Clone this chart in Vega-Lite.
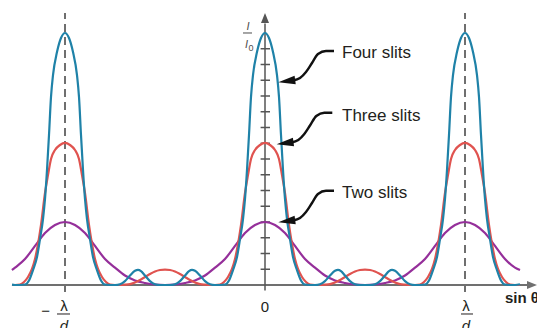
{
"$schema":"https://vega.github.io/schema/vega-lite/v6.json",
"width":537,"height":328,"padding":0,"autosize":{"type":"none"},
"background":"white",
"config":{"view":{"stroke":null},"font":"Liberation Sans"},
"encoding":{
"x":{"field":"u","type":"quantitative","scale":{"domain":[-1.325,1.36],"nice":false,"zero":false},"axis":null},
"y":{"field":"i","type":"quantitative","scale":{"domain":[-2.73,18.095],"nice":false,"zero":false},"axis":null}
},
"layer":[
{"data":{"values":[{"u":-1,"i":-0.444,"i2":17.27},{"u":1,"i":-0.444,"i2":17.27}]},
"mark":{"type":"rule","stroke":"#333333","strokeWidth":1.4,"strokeDash":[8,5]},
"encoding":{"y2":{"field":"i2"}}},
{"data":{"values":[{"u":-1.265,"u2":1.315,"i":0}]},
"mark":{"type":"rule","stroke":"#707070","strokeWidth":2},
"encoding":{"x2":{"field":"u2"}}},
{"data":{"values":[{"u":0,"i":-0.35,"i2":16.6}]},
"mark":{"type":"rule","stroke":"#555555","strokeWidth":1.5},
"encoding":{"y2":{"field":"i2"}}},
{"data":{"values":[{"u":-0.022,"u2":0.025,"i":1},{"u":-0.022,"u2":0.025,"i":2},{"u":-0.022,"u2":0.025,"i":3},{"u":-0.022,"u2":0.025,"i":4},{"u":-0.022,"u2":0.025,"i":5},{"u":-0.022,"u2":0.025,"i":6},{"u":-0.022,"u2":0.025,"i":7},{"u":-0.022,"u2":0.025,"i":8},{"u":-0.022,"u2":0.025,"i":9},{"u":-0.022,"u2":0.025,"i":10},{"u":-0.022,"u2":0.025,"i":11},{"u":-0.022,"u2":0.025,"i":12},{"u":-0.022,"u2":0.025,"i":13},{"u":-0.022,"u2":0.025,"i":14},{"u":-0.022,"u2":0.025,"i":15}]},
"mark":{"type":"rule","stroke":"#555555","strokeWidth":1.5},
"encoding":{"x2":{"field":"u2"}}},
{"data":{"values":[{"u":0,"i":16.95}]},
"mark":{"type":"point","shape":"M 0 -1 L 0.8 1 L -0.8 1 Z","size":100,"filled":true,"fill":"#555555","opacity":1,"strokeWidth":0}},
{"data":{"values":[{"u":1.335,"i":0}]},
"mark":{"type":"point","shape":"M 1 0 L -1 -0.8 L -1 0.8 Z","size":100,"filled":true,"fill":"#707070","opacity":1,"strokeWidth":0}},
{"data":{"values":[
{"s":"Two","u":-1.265,"i":0.95},{"s":"Two","u":-1.25,"i":1.1},{"s":"Two","u":-1.2,"i":1.65},{"s":"Two","u":-1.15,"i":2.48},{"s":"Two","u":-1.1,"i":3.3},{"s":"Two","u":-1.05,"i":3.81},{"s":"Two","u":-1,"i":4},{"s":"Two","u":-0.95,"i":3.81},{"s":"Two","u":-0.9,"i":3.3},{"s":"Two","u":-0.85,"i":2.48},{"s":"Two","u":-0.8,"i":1.65},{"s":"Two","u":-0.75,"i":1.1},{"s":"Two","u":-0.7,"i":0.6},{"s":"Two","u":-0.65,"i":0.29},{"s":"Two","u":-0.6,"i":0.13},{"s":"Two","u":-0.55,"i":0.03},{"s":"Two","u":-0.5,"i":0},{"s":"Two","u":-0.45,"i":0.03},{"s":"Two","u":-0.4,"i":0.13},{"s":"Two","u":-0.35,"i":0.29},{"s":"Two","u":-0.3,"i":0.6},{"s":"Two","u":-0.25,"i":1.1},{"s":"Two","u":-0.2,"i":1.65},{"s":"Two","u":-0.15,"i":2.48},{"s":"Two","u":-0.1,"i":3.3},{"s":"Two","u":-0.05,"i":3.81},{"s":"Two","u":0,"i":4},{"s":"Two","u":0.05,"i":3.81},{"s":"Two","u":0.1,"i":3.3},{"s":"Two","u":0.15,"i":2.48},{"s":"Two","u":0.2,"i":1.65},{"s":"Two","u":0.25,"i":1.1},{"s":"Two","u":0.3,"i":0.6},{"s":"Two","u":0.35,"i":0.29},{"s":"Two","u":0.4,"i":0.13},{"s":"Two","u":0.45,"i":0.03},{"s":"Two","u":0.5,"i":0},{"s":"Two","u":0.55,"i":0.03},{"s":"Two","u":0.6,"i":0.13},{"s":"Two","u":0.65,"i":0.29},{"s":"Two","u":0.7,"i":0.6},{"s":"Two","u":0.75,"i":1.1},{"s":"Two","u":0.8,"i":1.65},{"s":"Two","u":0.85,"i":2.48},{"s":"Two","u":0.9,"i":3.3},{"s":"Two","u":0.95,"i":3.81},{"s":"Two","u":1,"i":4},{"s":"Two","u":1.05,"i":3.81},{"s":"Two","u":1.1,"i":3.3},{"s":"Two","u":1.15,"i":2.48},{"s":"Two","u":1.2,"i":1.65},{"s":"Two","u":1.25,"i":1.1},{"s":"Two","u":1.275,"i":0.95},
{"s":"Three","u":-1.265,"i":0},{"s":"Three","u":-1.25,"i":0},{"s":"Three","u":-1.225,"i":0.03},{"s":"Three","u":-1.205,"i":0.19},{"s":"Three","u":-1.185,"i":0.51},{"s":"Three","u":-1.165,"i":1.02},{"s":"Three","u":-1.15,"i":1.65},{"s":"Three","u":-1.135,"i":2.6},{"s":"Three","u":-1.12,"i":3.81},{"s":"Three","u":-1.1,"i":5.84},{"s":"Three","u":-1.085,"i":6.98},{"s":"Three","u":-1.07,"i":8},{"s":"Three","u":-1.05,"i":8.57},{"s":"Three","u":-1.025,"i":8.89},{"s":"Three","u":-1,"i":9.02},
{"s":"Three","u":-0.975,"i":8.89},{"s":"Three","u":-0.95,"i":8.57},{"s":"Three","u":-0.93,"i":8},{"s":"Three","u":-0.915,"i":6.98},{"s":"Three","u":-0.9,"i":5.84},{"s":"Three","u":-0.88,"i":3.81},{"s":"Three","u":-0.865,"i":2.6},{"s":"Three","u":-0.85,"i":1.65},{"s":"Three","u":-0.835,"i":1.02},{"s":"Three","u":-0.815,"i":0.51},{"s":"Three","u":-0.795,"i":0.19},{"s":"Three","u":-0.775,"i":0.03},{"s":"Three","u":-0.75,"i":0},{"s":"Three","u":-0.725,"i":0},{"s":"Three","u":-0.7,"i":0.02},{"s":"Three","u":-0.675,"i":0.06},{"s":"Three","u":-0.65,"i":0.16},{"s":"Three","u":-0.625,"i":0.32},{"s":"Three","u":-0.6,"i":0.51},{"s":"Three","u":-0.575,"i":0.7},{"s":"Three","u":-0.55,"i":0.86},{"s":"Three","u":-0.525,"i":0.95},{"s":"Three","u":-0.5,"i":0.98},
{"s":"Three","u":-0.475,"i":0.95},{"s":"Three","u":-0.45,"i":0.86},{"s":"Three","u":-0.425,"i":0.7},{"s":"Three","u":-0.4,"i":0.51},{"s":"Three","u":-0.375,"i":0.32},{"s":"Three","u":-0.35,"i":0.16},{"s":"Three","u":-0.325,"i":0.06},{"s":"Three","u":-0.3,"i":0.02},{"s":"Three","u":-0.275,"i":0},{"s":"Three","u":-0.25,"i":0},{"s":"Three","u":-0.225,"i":0.03},{"s":"Three","u":-0.205,"i":0.19},{"s":"Three","u":-0.185,"i":0.51},{"s":"Three","u":-0.165,"i":1.02},{"s":"Three","u":-0.15,"i":1.65},{"s":"Three","u":-0.135,"i":2.6},{"s":"Three","u":-0.12,"i":3.81},{"s":"Three","u":-0.1,"i":5.84},{"s":"Three","u":-0.085,"i":6.98},{"s":"Three","u":-0.07,"i":8},{"s":"Three","u":-0.05,"i":8.57},{"s":"Three","u":-0.025,"i":8.89},{"s":"Three","u":0,"i":9.02},
{"s":"Three","u":0.025,"i":8.89},{"s":"Three","u":0.05,"i":8.57},{"s":"Three","u":0.07,"i":8},{"s":"Three","u":0.085,"i":6.98},{"s":"Three","u":0.1,"i":5.84},{"s":"Three","u":0.12,"i":3.81},{"s":"Three","u":0.135,"i":2.6},{"s":"Three","u":0.15,"i":1.65},{"s":"Three","u":0.165,"i":1.02},{"s":"Three","u":0.185,"i":0.51},{"s":"Three","u":0.205,"i":0.19},{"s":"Three","u":0.225,"i":0.03},{"s":"Three","u":0.25,"i":0},{"s":"Three","u":0.275,"i":0},{"s":"Three","u":0.3,"i":0.02},{"s":"Three","u":0.325,"i":0.06},{"s":"Three","u":0.35,"i":0.16},{"s":"Three","u":0.375,"i":0.32},{"s":"Three","u":0.4,"i":0.51},{"s":"Three","u":0.425,"i":0.7},{"s":"Three","u":0.45,"i":0.86},{"s":"Three","u":0.475,"i":0.95},{"s":"Three","u":0.5,"i":0.98},
{"s":"Three","u":0.525,"i":0.95},{"s":"Three","u":0.55,"i":0.86},{"s":"Three","u":0.575,"i":0.7},{"s":"Three","u":0.6,"i":0.51},{"s":"Three","u":0.625,"i":0.32},{"s":"Three","u":0.65,"i":0.16},{"s":"Three","u":0.675,"i":0.06},{"s":"Three","u":0.7,"i":0.02},{"s":"Three","u":0.725,"i":0},{"s":"Three","u":0.75,"i":0},{"s":"Three","u":0.775,"i":0.03},{"s":"Three","u":0.795,"i":0.19},{"s":"Three","u":0.815,"i":0.51},{"s":"Three","u":0.835,"i":1.02},{"s":"Three","u":0.85,"i":1.65},{"s":"Three","u":0.865,"i":2.6},{"s":"Three","u":0.88,"i":3.81},{"s":"Three","u":0.9,"i":5.84},{"s":"Three","u":0.915,"i":6.98},{"s":"Three","u":0.93,"i":8},{"s":"Three","u":0.95,"i":8.57},{"s":"Three","u":0.975,"i":8.89},{"s":"Three","u":1,"i":9.02},
{"s":"Three","u":1.025,"i":8.89},{"s":"Three","u":1.05,"i":8.57},{"s":"Three","u":1.07,"i":8},{"s":"Three","u":1.085,"i":6.98},{"s":"Three","u":1.1,"i":5.84},{"s":"Three","u":1.12,"i":3.81},{"s":"Three","u":1.135,"i":2.6},{"s":"Three","u":1.15,"i":1.65},{"s":"Three","u":1.165,"i":1.02},{"s":"Three","u":1.185,"i":0.51},{"s":"Three","u":1.205,"i":0.19},{"s":"Three","u":1.225,"i":0.03},{"s":"Three","u":1.25,"i":0},{"s":"Three","u":1.275,"i":0},
{"s":"Four","u":-1.265,"i":0.02},{"s":"Four","u":-1.25,"i":0},{"s":"Four","u":-1.225,"i":0},{"s":"Four","u":-1.2,"i":0.03},{"s":"Four","u":-1.18,"i":0.29},{"s":"Four","u":-1.16,"i":0.95},{"s":"Four","u":-1.14,"i":1.78},{"s":"Four","u":-1.125,"i":2.92},{"s":"Four","u":-1.11,"i":4.19},{"s":"Four","u":-1.1,"i":5.46},{"s":"Four","u":-1.09,"i":7.3},{"s":"Four","u":-1.08,"i":9.52},{"s":"Four","u":-1.07,"i":11.94},{"s":"Four","u":-1.06,"i":13.33},{"s":"Four","u":-1.04,"i":14.79},{"s":"Four","u":-1.02,"i":15.68},{"s":"Four","u":-1,"i":16},
{"s":"Four","u":-0.98,"i":15.68},{"s":"Four","u":-0.96,"i":14.79},{"s":"Four","u":-0.94,"i":13.33},{"s":"Four","u":-0.93,"i":11.94},{"s":"Four","u":-0.92,"i":9.52},{"s":"Four","u":-0.91,"i":7.3},{"s":"Four","u":-0.9,"i":5.46},{"s":"Four","u":-0.89,"i":4.19},{"s":"Four","u":-0.875,"i":2.92},{"s":"Four","u":-0.86,"i":1.78},{"s":"Four","u":-0.84,"i":0.95},{"s":"Four","u":-0.82,"i":0.29},{"s":"Four","u":-0.8,"i":0.03},{"s":"Four","u":-0.775,"i":0},{"s":"Four","u":-0.75,"i":0},{"s":"Four","u":-0.725,"i":0.05},{"s":"Four","u":-0.7,"i":0.25},{"s":"Four","u":-0.675,"i":0.6},{"s":"Four","u":-0.65,"i":0.9},{"s":"Four","u":-0.635,"i":0.96},{"s":"Four","u":-0.62,"i":0.88},{"s":"Four","u":-0.6,"i":0.6},{"s":"Four","u":-0.575,"i":0.25},{"s":"Four","u":-0.55,"i":0.05},{"s":"Four","u":-0.525,"i":0},{"s":"Four","u":-0.5,"i":0},
{"s":"Four","u":-0.475,"i":0},{"s":"Four","u":-0.45,"i":0.05},{"s":"Four","u":-0.425,"i":0.25},{"s":"Four","u":-0.4,"i":0.6},{"s":"Four","u":-0.38,"i":0.88},{"s":"Four","u":-0.365,"i":0.96},{"s":"Four","u":-0.35,"i":0.9},{"s":"Four","u":-0.325,"i":0.6},{"s":"Four","u":-0.3,"i":0.25},{"s":"Four","u":-0.275,"i":0.05},{"s":"Four","u":-0.25,"i":0},{"s":"Four","u":-0.225,"i":0},{"s":"Four","u":-0.2,"i":0.03},{"s":"Four","u":-0.18,"i":0.29},{"s":"Four","u":-0.16,"i":0.95},{"s":"Four","u":-0.14,"i":1.78},{"s":"Four","u":-0.125,"i":2.92},{"s":"Four","u":-0.11,"i":4.19},{"s":"Four","u":-0.1,"i":5.46},{"s":"Four","u":-0.09,"i":7.3},{"s":"Four","u":-0.08,"i":9.52},{"s":"Four","u":-0.07,"i":11.94},{"s":"Four","u":-0.06,"i":13.33},{"s":"Four","u":-0.04,"i":14.79},{"s":"Four","u":-0.02,"i":15.68},{"s":"Four","u":0,"i":16},
{"s":"Four","u":0.02,"i":15.68},{"s":"Four","u":0.04,"i":14.79},{"s":"Four","u":0.06,"i":13.33},{"s":"Four","u":0.07,"i":11.94},{"s":"Four","u":0.08,"i":9.52},{"s":"Four","u":0.09,"i":7.3},{"s":"Four","u":0.1,"i":5.46},{"s":"Four","u":0.11,"i":4.19},{"s":"Four","u":0.125,"i":2.92},{"s":"Four","u":0.14,"i":1.78},{"s":"Four","u":0.16,"i":0.95},{"s":"Four","u":0.18,"i":0.29},{"s":"Four","u":0.2,"i":0.03},{"s":"Four","u":0.225,"i":0},{"s":"Four","u":0.25,"i":0},{"s":"Four","u":0.275,"i":0.05},{"s":"Four","u":0.3,"i":0.25},{"s":"Four","u":0.325,"i":0.6},{"s":"Four","u":0.35,"i":0.9},{"s":"Four","u":0.365,"i":0.96},{"s":"Four","u":0.38,"i":0.88},{"s":"Four","u":0.4,"i":0.6},{"s":"Four","u":0.425,"i":0.25},{"s":"Four","u":0.45,"i":0.05},{"s":"Four","u":0.475,"i":0},{"s":"Four","u":0.5,"i":0},
{"s":"Four","u":0.525,"i":0},{"s":"Four","u":0.55,"i":0.05},{"s":"Four","u":0.575,"i":0.25},{"s":"Four","u":0.6,"i":0.6},{"s":"Four","u":0.62,"i":0.88},{"s":"Four","u":0.635,"i":0.96},{"s":"Four","u":0.65,"i":0.9},{"s":"Four","u":0.675,"i":0.6},{"s":"Four","u":0.7,"i":0.25},{"s":"Four","u":0.725,"i":0.05},{"s":"Four","u":0.75,"i":0},{"s":"Four","u":0.775,"i":0},{"s":"Four","u":0.8,"i":0.03},{"s":"Four","u":0.82,"i":0.29},{"s":"Four","u":0.84,"i":0.95},{"s":"Four","u":0.86,"i":1.78},{"s":"Four","u":0.875,"i":2.92},{"s":"Four","u":0.89,"i":4.19},{"s":"Four","u":0.9,"i":5.46},{"s":"Four","u":0.91,"i":7.3},{"s":"Four","u":0.92,"i":9.52},{"s":"Four","u":0.93,"i":11.94},{"s":"Four","u":0.94,"i":13.33},{"s":"Four","u":0.96,"i":14.79},{"s":"Four","u":0.98,"i":15.68},{"s":"Four","u":1,"i":16},
{"s":"Four","u":1.02,"i":15.68},{"s":"Four","u":1.04,"i":14.79},{"s":"Four","u":1.06,"i":13.33},{"s":"Four","u":1.07,"i":11.94},{"s":"Four","u":1.08,"i":9.52},{"s":"Four","u":1.09,"i":7.3},{"s":"Four","u":1.1,"i":5.46},{"s":"Four","u":1.11,"i":4.19},{"s":"Four","u":1.125,"i":2.92},{"s":"Four","u":1.14,"i":1.78},{"s":"Four","u":1.16,"i":0.95},{"s":"Four","u":1.18,"i":0.29},{"s":"Four","u":1.2,"i":0.03},{"s":"Four","u":1.225,"i":0},{"s":"Four","u":1.25,"i":0},{"s":"Four","u":1.275,"i":0.05}
]},
"mark":{"type":"line","interpolate":"monotone","strokeWidth":2.2},
"encoding":{"color":{"field":"s","type":"nominal","scale":{"domain":["Two","Three","Four"],"range":["#952f9a","#e0534f","#1f82a8"]},"legend":null}}},
{"data":{"values":[
{"k":"four","u":0.345,"i":14.86},{"k":"four","u":0.305,"i":14.86},{"k":"four","u":0.265,"i":14.667},{"k":"four","u":0.235,"i":14.095},{"k":"four","u":0.205,"i":13.524},{"k":"four","u":0.175,"i":13.143},{"k":"four","u":0.14,"i":12.984},
{"k":"three","u":0.3365,"i":10.94},{"k":"three","u":0.2965,"i":10.94},{"k":"three","u":0.2565,"i":10.73},{"k":"three","u":0.2265,"i":10.159},{"k":"three","u":0.1965,"i":9.587},{"k":"three","u":0.1665,"i":9.206},{"k":"three","u":0.1315,"i":9.048},
{"k":"two","u":0.345,"i":5.98},{"k":"two","u":0.305,"i":5.98},{"k":"two","u":0.265,"i":5.778},{"k":"two","u":0.235,"i":5.206},{"k":"two","u":0.205,"i":4.635},{"k":"two","u":0.175,"i":4.254},{"k":"two","u":0.14,"i":4.095}
]},
"mark":{"type":"line","interpolate":"monotone","strokeWidth":2.4,"color":"#111111"},
"encoding":{"detail":{"field":"k"}}},
{"data":{"values":[{"u":0.10875,"i":12.943},{"u":0.10025,"i":9.006},{"u":0.10875,"i":4.054}]},
"mark":{"type":"point","shape":"M -1 0 L 1 -0.5 L 1 0.5 Z","size":289,"filled":true,"fill":"#111111","opacity":1,"strokeWidth":0,"angle":352}},
{"data":{"values":[{"u":0.385,"i":14.413,"t":"Four slits"},{"u":0.385,"i":10.413,"t":"Three slits"},{"u":0.385,"i":5.524,"t":"Two slits"}]},
"mark":{"type":"text","align":"left","baseline":"alphabetic","fontSize":17,"color":"#231f20","font":"Liberation Sans"},
"encoding":{"text":{"field":"t"}}},
{"data":{"values":[{"u":0,"i":-1.714,"t":"0"},{"u":-1.005,"i":-1.651,"t":"λ"},{"u":1.005,"i":-1.651,"t":"λ"}]},
"mark":{"type":"text","align":"center","baseline":"alphabetic","fontSize":15,"color":"#231f20","font":"Liberation Sans"},
"encoding":{"text":{"field":"t"}}},
{"data":{"values":[{"u":-1.005,"i":-2.92,"t":"d"},{"u":1.005,"i":-2.92,"t":"d"}]},
"mark":{"type":"text","align":"center","baseline":"alphabetic","fontSize":15,"fontStyle":"italic","color":"#231f20","font":"Liberation Sans"},
"encoding":{"text":{"field":"t"}}},
{"data":{"values":[{"u":-1.0975,"i":-1.64,"t":"−"}]},
"mark":{"type":"text","align":"center","baseline":"middle","fontSize":15,"color":"#231f20","font":"Liberation Sans"},
"encoding":{"text":{"field":"t"}}},
{"data":{"values":[{"u":-1.04,"u2":-0.975,"i":-1.841},{"u":0.98,"u2":1.04,"i":-1.841}]},
"mark":{"type":"rule","stroke":"#231f20","strokeWidth":1},
"encoding":{"x2":{"field":"u2"}}},
{"data":{"values":[{"u":1.2,"i":-1.143,"t":"sin θ"}]},
"mark":{"type":"text","align":"left","baseline":"alphabetic","fontSize":15,"fontWeight":"bold","color":"#231f20","font":"Liberation Sans"},
"encoding":{"text":{"field":"t"}}},
{"data":{"values":[{"u":-0.085,"i":16.16,"t":"I"},{"u":-0.092,"i":15.05,"t":"I"}]},
"mark":{"type":"text","align":"center","baseline":"alphabetic","fontSize":11,"fontStyle":"italic","color":"#4d4d4d","font":"Liberation Sans"},
"encoding":{"text":{"field":"t"}}},
{"data":{"values":[{"u":-0.07,"i":14.857,"t":"0"}]},
"mark":{"type":"text","align":"center","baseline":"alphabetic","fontSize":9,"color":"#4d4d4d","font":"Liberation Sans"},
"encoding":{"text":{"field":"t"}}},
{"data":{"values":[{"u":-0.11,"u2":-0.065,"i":16}]},
"mark":{"type":"rule","stroke":"#4d4d4d","strokeWidth":1},
"encoding":{"x2":{"field":"u2"}}}
]
}
